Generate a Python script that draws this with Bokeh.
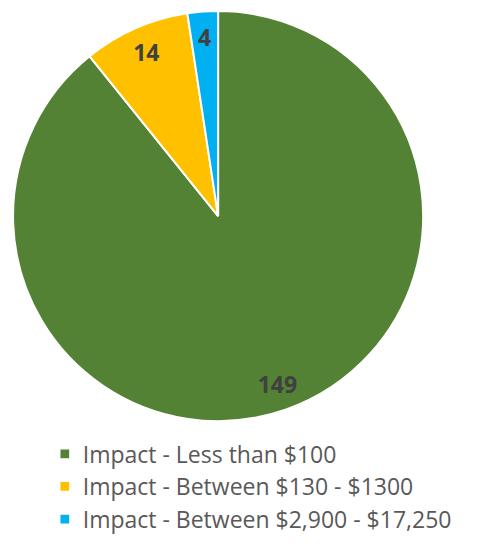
import math
from bokeh.plotting import figure
from bokeh.models import Range1d, ColumnDataSource
from bokeh.core.properties import value
from bokeh.embed import file_html
from bokeh.resources import INLINE

# ---- data ----
categories = ["Impact - Less than $100",
              "Impact - Between $130 - $1300",
              "Impact - Between $2,900 - $17,250"]
counts = [149, 14, 4]
colors = ["#548235", "#FFC000", "#00B0F0"]

# ---- layout (reference pixel coordinates; y is negated) ----
W, H = 471, 536
cx, cy, R = 225, -222, 212
label_r = 0.87 * R
legend_x_sq = 66.5
legend_x_txt = 85
legend_rows = [-467, -500.5, -534]

total = sum(counts)
starts, ends, mids = [], [], []
cum = 0
for c in counts:
    a0 = math.pi / 2 - 2 * math.pi * cum / total
    cum += c
    a1 = math.pi / 2 - 2 * math.pi * cum / total
    starts.append(a0)
    ends.append(a1)
    mids.append((a0 + a1) / 2)

src = ColumnDataSource(dict(
    start=starts, end=ends, color=colors, cat=categories,
    lx=[cx + label_r * math.cos(m) for m in mids],
    ly=[cy + label_r * math.sin(m) for m in mids],
    lab=[str(c) for c in counts],
))

p = figure(width=W, height=H, output_backend="svg", toolbar_location=None,
           x_range=Range1d(0, 487), y_range=Range1d(-552, 0),
           x_axis_type=None, y_axis_type=None, min_border=0,
           outline_line_color=None, background_fill_color="white")
p.grid.visible = False

p.wedge(x=cx, y=cy, radius=R, start_angle="start", end_angle="end",
        direction="clock", fill_color="color", line_color="white",
        line_width=2, source=src)

p.text(x="lx", y="ly", text="lab", source=src, text_align="center",
       text_baseline="middle", text_font=value("Open Sans"),
       text_font_style="bold", text_font_size="23px", text_color="#404040")

leg = ColumnDataSource(dict(
    xs=[legend_x_sq] * len(categories), xt=[legend_x_txt] * len(categories),
    y=legend_rows, color=colors, cat=categories))
p.rect(x="xs", y="y", width=9, height=9, fill_color="color",
       line_color=None, source=leg)
p.text(x="xt", y="y", text="cat", source=leg, text_align="left",
       text_baseline="middle", text_font=value("Open Sans"),
       text_font_size="23px", text_color="#595959")

open("out.html", "w").write(file_html(p, INLINE))
